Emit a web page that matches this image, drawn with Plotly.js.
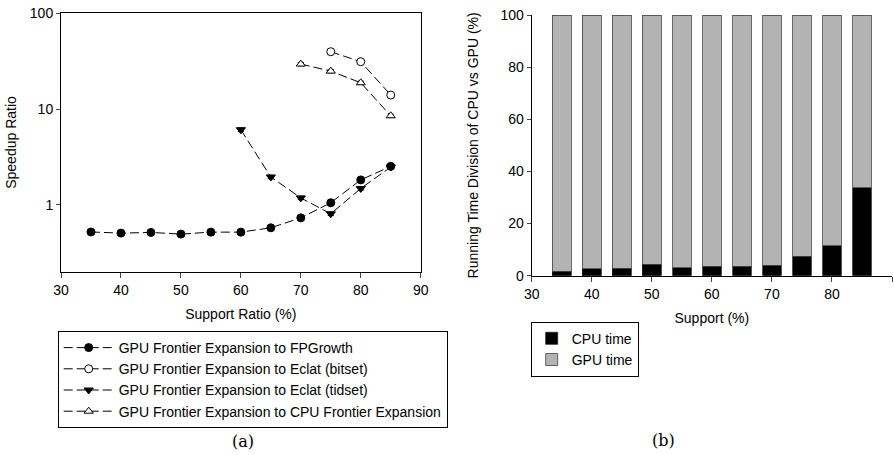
<!DOCTYPE html>
<html><head><meta charset="utf-8">
<script src="https://cdn.plot.ly/plotly-3.0.1.min.js"></script>
<style>html,body{margin:0;padding:0;background:#fff}#chart{width:894px;height:455px}</style>
</head><body><div id="chart"></div>
<script>
// (a) speedup ratio data
const supportA = [35, 40, 45, 50, 55, 60, 65, 70, 75, 80, 85];
const fpgrowth = [0.52, 0.506, 0.514, 0.494, 0.518, 0.518, 0.575, 0.73, 1.05, 1.82, 2.52];
const supportBitset = [75, 80, 85];
const eclatBitset = [39.7, 31.2, 14.0];
const supportTidset = [60, 65, 70, 75, 80, 85];
const eclatTidset = [6.08, 1.95, 1.18, 0.805, 1.48, 2.48];
const supportCpuFE = [70, 75, 80, 85];
const cpuFrontier = [29.5, 24.9, 18.8, 8.5];
const namesA = ["GPU Frontier Expansion to FPGrowth", "GPU Frontier Expansion to Eclat (bitset)",
  "GPU Frontier Expansion to Eclat (tidset)", "GPU Frontier Expansion to CPU Frontier Expansion"];

// (b) running time division
const supportB = [35, 40, 45, 50, 55, 60, 65, 70, 75, 80, 85];
const cpuTime = [1.8, 2.7, 2.8, 4.3, 3.1, 3.7, 3.6, 4.1, 7.4, 11.4, 33.8];
const gpuTime = cpuTime.map(v => 100 - v);

const font = "Liberation Sans, Arial, sans-serif";
const errStyle = {type: 'percent', value: 4, width: 3, thickness: 1, color: '#000'};
function lineTrace(x, y, name, symbol, fill) {
  return {x: x, y: y, name: name, type: 'scatter', mode: 'lines+markers', xaxis: 'x', yaxis: 'y',
    line: {color: '#000', width: 1, dash: '9px,4px'},
    marker: {symbol: symbol, size: 8, color: fill, line: {color: '#000', width: 1}},
    error_y: errStyle, legend: 'legend'};
}
const traces = [
  lineTrace(supportA, fpgrowth, namesA[0], 'circle', '#000'),
  lineTrace(supportBitset, eclatBitset, namesA[1], 'circle', '#fff'),
  lineTrace(supportTidset, eclatTidset, namesA[2], 'triangle-down', '#000'),
  lineTrace(supportCpuFE, cpuFrontier, namesA[3], 'triangle-up', '#fff'),
  {x: supportB, y: cpuTime, name: 'CPU time', type: 'bar', xaxis: 'x2', yaxis: 'y2', width: 3.1,
    marker: {color: '#000', line: {color: '#222', width: 0.8}}, legend: 'legend2'},
  {x: supportB, y: gpuTime, name: 'GPU time', type: 'bar', xaxis: 'x2', yaxis: 'y2', width: 3.1,
    marker: {color: '#b3b3b3', line: {color: '#444', width: 0.8}}, legend: 'legend2'}
];
const W = 894, H = 455;
const layout = {
  width: W, height: H, margin: {l: 0, r: 0, t: 0, b: 0}, paper_bgcolor: '#fff', plot_bgcolor: '#fff',
  barmode: 'stack', showlegend: true,
  font: {family: font, size: 14, color: '#000'},
  xaxis: {domain: [61 / W, 420.7 / W], range: [30, 90], dtick: 10, tick0: 30, showline: true, mirror: true,
    linecolor: '#000', linewidth: 1, ticks: 'outside', ticklen: 5, showgrid: false, zeroline: false,
    tickfont: {size: 14}, title: {text: 'Support Ratio (%)', font: {size: 14}, standoff: 12}},
  yaxis: {domain: [1 - 271.7 / H, 1 - 13.3 / H], type: 'log', range: [Math.log10(0.2), 2],
    tickvals: [1, 10, 100], ticktext: ['1', '10', '100'], showline: true, mirror: true, linecolor: '#000', linewidth: 1,
    ticks: 'outside', ticklen: 4, showgrid: false, zeroline: false, tickfont: {size: 14},
    title: {text: 'Speedup Ratio', font: {size: 14}, standoff: 9}},
  xaxis2: {domain: [531.7 / W, 892 / W], range: [30, 90], dtick: 10, tick0: 30, showline: true, linecolor: '#000',
    linewidth: 1, ticks: 'outside', ticklen: 5, showgrid: false, zeroline: false, anchor: 'y2', tickfont: {size: 14},
    title: {text: 'Support (%)', font: {size: 14}, standoff: 12}},
  yaxis2: {domain: [1 - 275.7 / H, 1 - 15 / H], range: [0, 100], dtick: 20, showline: true, linecolor: '#000',
    linewidth: 1, ticks: 'outside', ticklen: 4, showgrid: false, zeroline: false, anchor: 'x2', tickfont: {size: 14},
    title: {text: 'Running Time Division of CPU vs GPU (%)', font: {size: 14}, standoff: 18}},
  legend: {x: 57.7 / W, y: 1 - 331 / H, xanchor: 'left', yanchor: 'top', bordercolor: '#000', borderwidth: 1,
    bgcolor: '#fff', font: {size: 14}, traceorder: 'normal', tracegroupgap: 0, itemwidth: 50},
  legend2: {x: 530.7 / W, y: 1 - 321.7 / H, xanchor: 'left', yanchor: 'top', bordercolor: '#000', borderwidth: 1,
    bgcolor: '#fff', font: {size: 14}, traceorder: 'normal', tracegroupgap: 0},
  annotations: [
    {text: '(a)', x: 230 / W, y: 1 - 441.7 / H, xref: 'paper', yref: 'paper', yanchor: 'middle', showarrow: false,
      font: {family: 'DejaVu Serif, Liberation Serif, serif', size: 16}},
    {text: '(b)', x: 676.7 / W, y: 1 - 440 / H, xref: 'paper', yref: 'paper', yanchor: 'middle', showarrow: false,
      font: {family: 'DejaVu Serif, Liberation Serif, serif', size: 16}}
  ]
};
Plotly.newPlot('chart', traces, layout, {staticPlot: true, displayModeBar: false});
</script></body></html>
